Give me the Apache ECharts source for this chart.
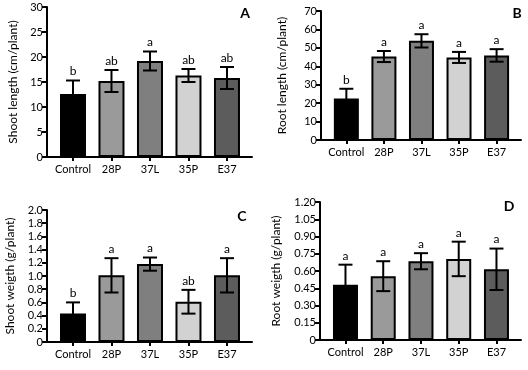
<!DOCTYPE html>
<html>
<head>
<meta charset="utf-8">
<script src="https://cdn.jsdelivr.net/npm/echarts@6/dist/echarts.min.js"></script>
<style>
  html, body { margin: 0; padding: 0; background: #fff; }
  #chart { width: 528px; height: 370px; }
</style>
</head>
<body>
<div id="chart"></div>
<script>
const categories = ['Control', '28P', '37L', '35P', 'E37']
const barColors = ['#000000', '#9a9a9a', '#7f7f7f', '#d2d2d2', '#5c5c5c']

// A - shoot length
const shootLength = [12.6, 15.2, 19.2, 16.3, 15.8]
const shootLengthErr = [2.7, 2.2, 1.9, 1.3, 2.2]
const shootLengthSig = ['b', 'ab', 'a', 'ab', 'ab']

// B - root length
const rootLength = [22.5, 45.3, 53.8, 44.8, 45.9]
const rootLengthErr = [5.3, 3.0, 3.6, 3.0, 3.4]
const rootLengthSig = ['b', 'a', 'a', 'a', 'a']

// C - shoot weight
const shootWeight = [0.43, 1.01, 1.18, 0.61, 1.01]
const shootWeightErr = [0.17, 0.26, 0.10, 0.18, 0.26]
const shootWeightSig = ['b', 'a', 'a', 'ab', 'a']

// D - root weight
const rootWeight = [0.48, 0.555, 0.685, 0.705, 0.615]
const rootWeightErr = [0.175, 0.13, 0.07, 0.15, 0.18]
const rootWeightSig = ['a', 'a', 'a', 'a', 'a']

const FONT = 'Lato, "Liberation Sans", sans-serif'
const catIdx = categories.map((c, i) => i)

const panels = [
  {name: 'Shoot length (cm/plant)', vals: shootLength, err: shootLengthErr, sig: shootLengthSig,
   grid: {left: 47, top: 7, width: 205, height: 150}, max: 30, interval: 5, gap: 28, fmt: v => v, barW: 26, letter: 'A', lx: 245, ly: 13},
  {name: 'Root length (cm/plant)', vals: rootLength, err: rootLengthErr, sig: rootLengthSig,
   grid: {left: 321, top: 11, width: 200, height: 129}, max: 70, interval: 10, gap: 33, fmt: v => v, barW: 25, letter: 'B', lx: 517, ly: 13},
  {name: 'Shoot weigth (g/plant)', vals: shootWeight, err: shootWeightErr, sig: shootWeightSig,
   grid: {left: 47, top: 210, width: 205, height: 132}, max: 2.0, interval: 0.2, gap: 31, fmt: v => v === 0 ? '0' : v.toFixed(1), barW: 26, letter: 'C', lx: 242, ly: 216},
  {name: 'Root weigth (g/plant)', vals: rootWeight, err: rootWeightErr, sig: rootWeightSig,
   grid: {left: 320, top: 202, width: 201, height: 138}, max: 1.2, interval: 0.15, gap: 38, fmt: v => v === 0 ? '0' : v.toFixed(2), barW: 25, letter: 'D', lx: 509, ly: 206}
]

const chart = echarts.init(document.getElementById('chart'))

const errorBars = (p) => (params, api) => {
  const x = api.value(0), y = api.value(1), e = api.value(2)
  const top = api.coord([x, y + e])
  const bot = api.coord([x, y - e])
  const hw = 7
  const st = {stroke: '#000', lineWidth: 2}
  return {
    type: 'group',
    children: [
      {type: 'line', shape: {x1: top[0], y1: top[1], x2: bot[0], y2: bot[1]}, style: st},
      {type: 'line', shape: {x1: top[0] - hw, y1: top[1], x2: top[0] + hw, y2: top[1]}, style: st},
      {type: 'line', shape: {x1: bot[0] - hw, y1: bot[1], x2: bot[0] + hw, y2: bot[1]}, style: st},
      {type: 'text', x: top[0], y: top[1] - 3,
       style: {text: p.sig[params.dataIndex], textAlign: 'center', textVerticalAlign: 'bottom', fill: '#000', font: '12px ' + FONT}}
    ]
  }
}

const option = {
  animation: false,
  backgroundColor: '#fff',
  grid: panels.map(p => p.grid),
  xAxis: panels.map((p, i) => ({
    type: 'value',
    gridIndex: i,
    min: -0.675,
    max: 4.65,
    splitLine: {show: false},
    axisLine: {onZero: false, lineStyle: {color: '#000', width: 2}},
    axisTick: {customValues: catIdx, length: 4, lineStyle: {color: '#000', width: 2}},
    axisLabel: {customValues: catIdx, formatter: v => categories[v], color: '#000', fontSize: 11, fontFamily: FONT, margin: 7}
  })),
  yAxis: panels.map((p, i) => ({
    type: 'value',
    gridIndex: i,
    min: 0,
    max: p.max,
    interval: p.interval,
    name: p.name,
    nameLocation: 'middle',
    nameGap: p.gap,
    nameTextStyle: {color: '#000', fontSize: 12, fontFamily: FONT},
    splitLine: {show: false},
    axisLine: {show: true, onZero: false, lineStyle: {color: '#000', width: 2}},
    axisTick: {show: true, length: 5, lineStyle: {color: '#000', width: 2}},
    axisLabel: {color: '#000', fontSize: 11, fontFamily: FONT, margin: 4, formatter: p.fmt}
  })),
  series: panels.flatMap((p, i) => [
    {
      type: 'bar',
      xAxisIndex: i,
      yAxisIndex: i,
      barWidth: p.barW,
      data: p.vals.map((v, k) => ({value: [k, v], itemStyle: {color: barColors[k]}})),
      itemStyle: {borderColor: '#000', borderWidth: 2}
    },
    {
      type: 'custom',
      xAxisIndex: i,
      yAxisIndex: i,
      z: 5,
      renderItem: errorBars(p),
      data: p.vals.map((v, k) => [k, v, p.err[k]])
    }
  ]),
  graphic: panels.map(p => ({
    type: 'text', x: p.lx, y: p.ly,
    style: {text: p.letter, textAlign: 'center', textVerticalAlign: 'middle', font: 'bold 14px ' + FONT, fill: '#000'}
  }))
}

chart.setOption(option)
</script>
</body>
</html>
